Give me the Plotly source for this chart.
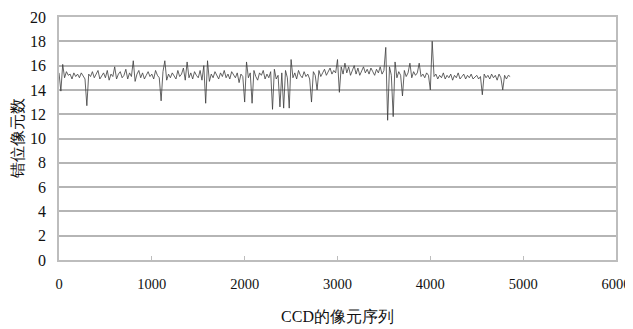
import plotly.graph_objects as go

# CCD pixel index (sampled every 20 pixels) and misalignment pixel count
pixel_index = list(range(0, 4861, 20))
misalign = [
    15.4, 13.9, 16.1, 15.0, 15.5, 15.2, 15.3, 14.9, 15.4, 15.1, 15.3, 15.0, 15.4, 15.2, 14.9, 12.7, 15.3, 15.1, 15.5, 15.0, 15.3, 15.6, 14.9, 15.2, 15.4,
    15.0, 15.6, 14.8, 15.3, 15.1, 15.9, 14.9, 15.3, 15.5, 15.0, 15.2, 15.7, 14.9, 15.4, 15.1, 16.4, 14.7, 15.3, 15.6, 15.0, 15.4, 14.9, 15.2, 15.5, 15.1,
    15.3, 14.9, 15.6, 15.2, 15.0, 13.1, 15.5, 16.4, 14.8, 15.3, 15.0, 15.4, 15.2, 14.9, 15.6, 15.1, 15.3, 15.8, 14.8, 16.3, 15.0, 15.4, 14.9, 15.5, 15.2,
    15.0, 15.6, 14.8, 16.0, 12.9, 16.4, 14.7, 15.3, 15.0, 15.5, 15.2, 14.9, 15.4, 15.1, 15.6, 15.0, 15.3, 14.9, 15.5, 15.2, 15.0, 15.4, 14.6, 15.3, 15.1,
    13.0, 16.3, 15.0, 15.4, 12.9, 15.6, 15.1, 14.8, 15.4, 15.2, 15.6, 14.9, 15.3, 15.0, 15.5, 12.4, 15.7, 14.9, 15.2, 12.6, 15.4, 12.5, 15.6, 15.0, 12.5,
    16.5, 15.0, 15.4, 14.9, 15.6, 15.2, 15.0, 15.5, 15.1, 15.3, 14.9, 13.0, 15.5, 15.2, 14.0, 15.6, 15.1, 15.4, 15.7, 15.2, 15.5, 15.8, 15.3, 15.6, 15.4,
    16.5, 13.8, 15.9, 15.3, 16.2, 15.4, 15.9, 15.2, 15.7, 16.0, 15.3, 15.8, 15.2, 15.6, 15.9, 15.4, 15.7, 15.3, 15.8, 15.5, 15.2, 15.7, 15.4, 15.9, 15.3,
    15.6, 17.5, 11.5, 15.9, 15.2, 11.8, 16.3, 15.0, 15.5, 15.2, 13.5, 15.6, 15.1, 15.4, 16.2, 15.0, 15.5, 15.2, 15.4, 16.2, 15.1, 15.3, 15.0, 15.4, 15.2,
    14.0, 18.0, 15.1, 15.3, 14.9, 15.2, 15.0, 15.4, 14.9, 15.2, 15.0, 15.3, 14.8, 15.2, 15.0, 15.4, 14.9, 15.1, 15.3, 14.9, 15.2, 15.0, 15.3, 14.9, 15.1,
    15.2, 14.9, 15.1, 13.6, 15.3, 15.0, 15.2, 14.9, 15.3, 15.0, 15.2, 14.8, 15.3, 15.0, 14.0, 15.2, 14.9, 15.2, 15.1,
]

x_ticks = [0, 1000, 2000, 3000, 4000, 5000, 6000]
y_ticks = [0, 2, 4, 6, 8, 10, 12, 14, 16, 18, 20]

FONT = "Liberation Serif, Times, serif"

fig = go.Figure()
fig.add_trace(go.Scatter(
    x=pixel_index, y=misalign, mode="lines",
    line=dict(color="#3c3c3c", width=0.8),
    showlegend=False,
))

fig.update_layout(
    width=625, height=321,
    margin=dict(l=51, r=17, t=9, b=69),
    paper_bgcolor="white", plot_bgcolor="white",
    font=dict(family=FONT, size=16, color="#111"),
    xaxis=dict(
        range=[0, 6000], tickvals=x_ticks, ticktext=[str(v) for v in x_ticks],
        showgrid=False, zeroline=False, automargin=False,
        showline=True, mirror=True, linecolor="#bdbdbd", linewidth=1.5,
        ticks="inside", ticklen=4, tickcolor="#bdbdbd",
        ticklabelstandoff=10, ticklabeloverflow="allow",
        title=dict(text="CCD的像元序列", standoff=20, font=dict(family=FONT, size=16)),
        tickfont=dict(family=FONT, size=14.5),
    ),
    yaxis=dict(
        range=[0, 20], tickvals=y_ticks,
        showgrid=True, gridcolor="#b5b5b5", gridwidth=1.5,
        zeroline=False, automargin=False,
        showline=True, mirror=True, linecolor="#bdbdbd", linewidth=1.5,
        ticks="", ticklabelstandoff=8, ticklabeloverflow="allow",
        title=dict(text="错位像元数", standoff=2, font=dict(family=FONT, size=16)),
        tickfont=dict(family=FONT, size=16),
    ),
)

fig.write_html("out.html")
